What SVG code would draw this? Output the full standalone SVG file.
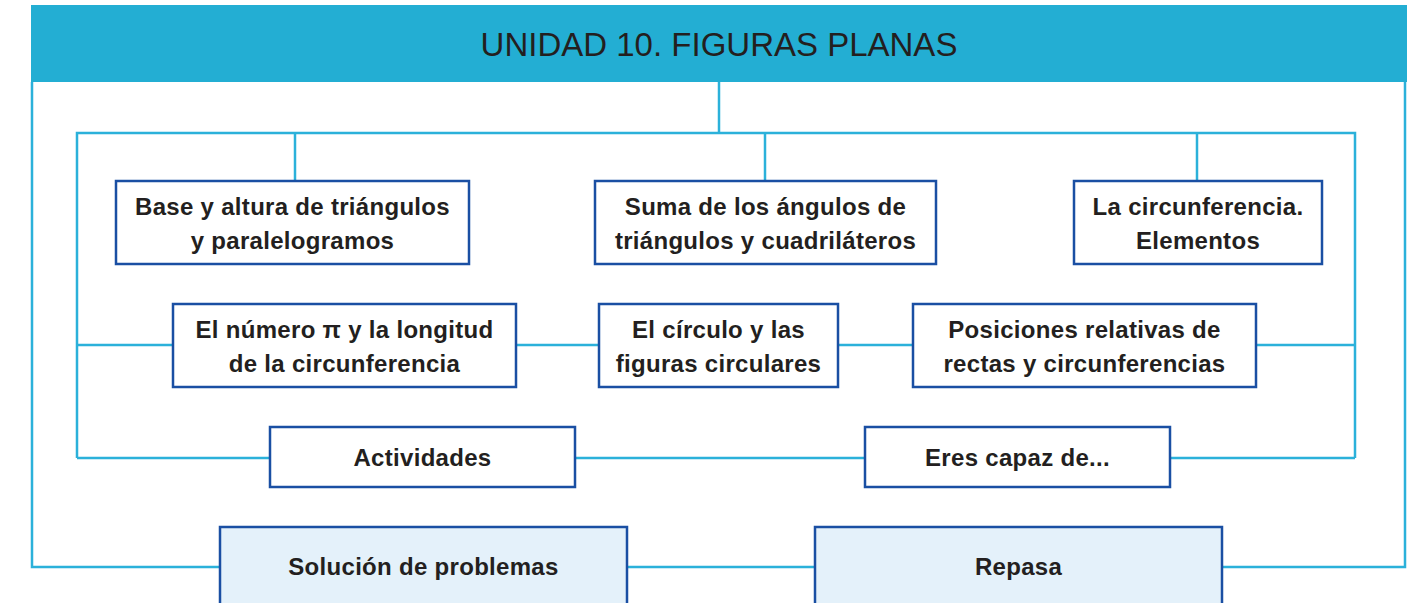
<svg xmlns="http://www.w3.org/2000/svg" width="1415" height="603" viewBox="0 0 1415 603">
<style>
.c{fill:none;stroke:#2BB1DA;stroke-width:2.5}
.n{fill:#fff;stroke:#1A4FA3;stroke-width:2.5}
.s{fill:#E4F1FA;stroke:#1A4FA3;stroke-width:2.5}
.t{font-family:"Liberation Sans",Arial,sans-serif;font-weight:bold;font-size:24px;letter-spacing:0.3px;fill:#231F20;text-anchor:middle}
.h{font-family:"Liberation Sans",Arial,sans-serif;font-size:33px;fill:#231F20;text-anchor:middle}
</style>
<rect width="1415" height="603" fill="#fff"/>
<g id="connectors">
<polyline class="c" points="32,82 32,567 1405,567 1405,82"/>
<line class="c" x1="719" y1="82" x2="719" y2="133"/>
<polyline class="c" points="77,458 77,133 1355,133 1355,458"/>
<line class="c" x1="295" y1="133" x2="295" y2="181"/>
<line class="c" x1="765" y1="133" x2="765" y2="181"/>
<line class="c" x1="1197" y1="133" x2="1197" y2="181"/>
<line class="c" x1="77" y1="345" x2="1355" y2="345"/>
<line class="c" x1="77" y1="458" x2="1355" y2="458"/>
</g>
<g id="header">
<rect x="31" y="5" width="1376" height="77" fill="#23AED3"/>
<text class="h" x="719" y="56">UNIDAD 10. FIGURAS PLANAS</text>
</g>
<g id="n1">
<rect class="n" x="116" y="181" width="353" height="83"/>
<text class="t" x="292.5" y="215">Base y altura de triángulos</text>
<text class="t" x="292.5" y="249">y paralelogramos</text>
</g>
<g id="n2">
<rect class="n" x="595" y="181" width="341" height="83"/>
<text class="t" x="765.5" y="215">Suma de los ángulos de</text>
<text class="t" x="765.5" y="249">triángulos y cuadriláteros</text>
</g>
<g id="n3">
<rect class="n" x="1074" y="181" width="248" height="83"/>
<text class="t" x="1198" y="215">La circunferencia.</text>
<text class="t" x="1198" y="249">Elementos</text>
</g>
<g id="n4">
<rect class="n" x="173" y="304" width="343" height="83"/>
<text class="t" x="344.5" y="338">El número π y la longitud</text>
<text class="t" x="344.5" y="372">de la circunferencia</text>
</g>
<g id="n5">
<rect class="n" x="599" y="304" width="239" height="83"/>
<text class="t" x="718.5" y="338">El círculo y las</text>
<text class="t" x="718.5" y="372">figuras circulares</text>
</g>
<g id="n6">
<rect class="n" x="913" y="304" width="343" height="83"/>
<text class="t" x="1084.5" y="338">Posiciones relativas de</text>
<text class="t" x="1084.5" y="372">rectas y circunferencias</text>
</g>
<g id="n7">
<rect class="n" x="270" y="427" width="305" height="60"/>
<text class="t" x="422.5" y="466">Actividades</text>
</g>
<g id="n8">
<rect class="n" x="865" y="427" width="305" height="60"/>
<text class="t" x="1017.5" y="466">Eres capaz de...</text>
</g>
<g id="n9">
<rect class="s" x="220" y="527" width="407" height="90"/>
<text class="t" x="423.5" y="575">Solución de problemas</text>
</g>
<g id="n10">
<rect class="s" x="815" y="527" width="407" height="90"/>
<text class="t" x="1018.5" y="575">Repasa</text>
</g>
</svg>
